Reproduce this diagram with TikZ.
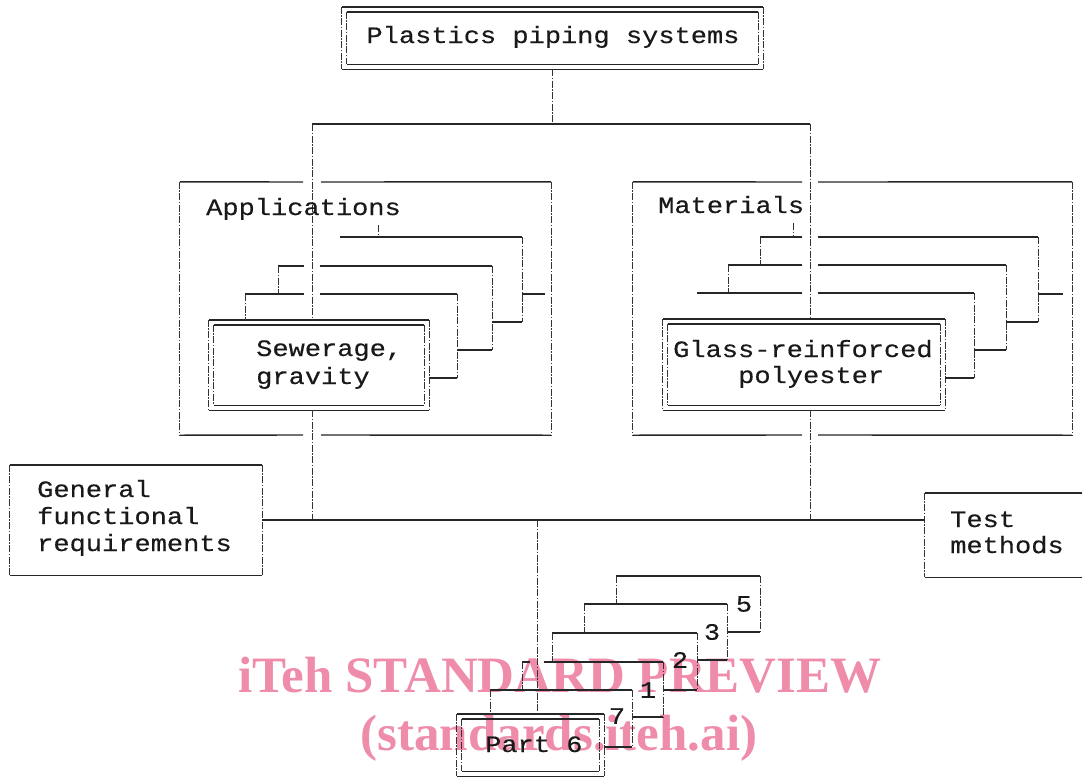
\documentclass[tikz,border=0pt]{standalone}
\usepackage{fontspec}
\usetikzlibrary{calc}
\newfontfamily\twfont[FakeStretch=1.15,FakeBold=0.4]{Liberation Mono}
\newfontfamily\wmfont{Liberation Serif}
\definecolor{wmpink}{RGB}{238,140,170}
\tikzset{
  hl/.style={line width=1.4pt, draw=black!85},
  vl/.style={line width=0.9pt, draw=black!80, dash pattern=on 7pt off 1.5pt on 1.5pt off 1.5pt},
  boxarea/.style={draw=none, inner sep=0pt},
  txt/.style={font={\twfont\fontsize{23.5}{27}\selectfont}, inner sep=0pt, text=black!90},
  wmark/.style={font={\wmfont\bfseries\fontsize{51}{56}\selectfont}, inner sep=0pt, text=wmpink}
}
\newcommand\hvframe[2]{%
  \draw[hl] (#1) -- (#1 -| #2) (#1 |- #2) -- (#2);
  \draw[vl] (#1) -- (#1 |- #2) (#1 -| #2) -- (#2);}
\newcommand\dblframe[1]{%
  \hvframe{#1.north west}{#1.south east}%
  \path ($(#1.north west)+(5,5)$) coordinate (#1-inw) ($(#1.south east)+(-5,-5)$) coordinate (#1-ise);
  \hvframe{#1-inw}{#1-ise}}
\begin{document}
\begin{tikzpicture}[x=1pt,y=-1pt]
\useasboundingbox (0,0) rectangle (1082,777);
% watermark (behind)
\node[wmark, anchor=base] (wm1) at (560,692) {iTeh STANDARD PREVIEW};
\node[wmark, anchor=base] (wm2) at (559,750) {(standards.iteh.ai)};

% box areas
\node[boxarea, minimum width=421pt, minimum height=62pt] (top) at (552.5,38) {};
\node[boxarea, minimum width=371pt, minimum height=253pt] (apps) at (365.5,308.5) {};
\node[boxarea, minimum width=439pt, minimum height=253pt] (mats) at (852.5,308.5) {};
\node[boxarea, minimum width=220pt, minimum height=90pt] (sew) at (319,365) {};
\node[boxarea, minimum width=282pt, minimum height=91pt] (grp) at (804,364.5) {};
\node[boxarea, minimum width=252pt, minimum height=110pt] (gen) at (136,520) {};
\node[boxarea, minimum width=175pt, minimum height=84pt] (test) at (1012.5,535) {};
\node[boxarea, minimum width=147pt, minimum height=62pt] (part) at (530.5,745) {};

% frames
\dblframe{top}
\dblframe{sew}
\dblframe{grp}
\dblframe{part}
\hvframe{gen.north west}{gen.south east}
\draw[hl] (test.north west) -- (test.north east) (test.south west) -- (test.south east);
\draw[vl] (test.north west) -- (test.south west);
\draw[hl] (apps.north west) -- (303,182) (321,182) -- (apps.north east);
\draw[hl] (apps.south west) -- (303,435) (321,435) -- (apps.south east);
\draw[vl] (apps.north west) -- (apps.south west) (apps.north east) -- (apps.south east);
\draw[hl] (mats.north west) -- (802,182) (818,182) -- (mats.north east);
\draw[hl] (mats.south west) -- (802,435) (818,435) -- (mats.south east);
\draw[vl] (mats.north west) -- (mats.south west) (mats.north east) -- (mats.south east);

% connectors
\coordinate (busL) at (312,124);
\coordinate (busR) at (810,124);
\coordinate (lowL) at (312,520);
\coordinate (lowR) at (810,520);
\coordinate (lowM) at (537,520);
\draw[vl] (top.south) -- (top.south |- busL);
\draw[hl] (busL) -- (busR);
\draw[vl] (busL) -- (busL |- sew.north);
\draw[vl] (sew.south -| busL) -- (lowL);
\draw[vl] (busR) -- (busR |- grp.north);
\draw[vl] (grp.south -| busR) -- (lowR);
\draw[hl] (gen.east) -- (gen.east -| test.west);
\draw[vl] (lowM) -- (lowM |- part.north);

% applications stack
\draw[hl] (340,237) -- (522,237);
\draw[vl] (378,225) -- (378,237);
\draw[vl] (522,237) -- (522,322);
\draw[hl] (492,322) -- (522,322);
\draw[hl] (522,294) -- (545,294);
\draw[hl] (278,266) -- (304,266) (320,266) -- (492,266);
\draw[vl] (278,266) -- (278,294);
\draw[vl] (492,266) -- (492,350);
\draw[hl] (457,350) -- (492,350);
\draw[hl] (245,294) -- (304,294) (320,294) -- (457,294);
\draw[vl] (245,294) -- (245,320);
\draw[vl] (457,294) -- (457,378);
\draw[hl] (sew.east |- 0,378) -- (457,378);

% materials stack
\draw[vl] (793,223) -- (793,237);
\draw[hl] (760,237) -- (802,237) (818,237) -- (1038,237);
\draw[vl] (760,237) -- (760,265);
\draw[hl] (728,265) -- (802,265) (818,265) -- (1006,265);
\draw[vl] (728,265) -- (728,293);
\draw[hl] (697,293) -- (802,293) (818,293) -- (974,293);
\draw[vl] (1038,237) -- (1038,322);
\draw[hl] (1006,322) -- (1038,322);
\draw[hl] (1038,294) -- (1063,294);
\draw[vl] (1006,265) -- (1006,350);
\draw[hl] (974,350) -- (1006,350);
\draw[vl] (974,293) -- (974,378);
\draw[hl] (grp.east |- 0,378) -- (974,378);

% parts stack
\draw[hl] (616,576) -- (760,576);
\draw[vl] (760,576) -- (760,632);
\draw[hl] (728,632) -- (760,632);
\draw[vl] (616,576) -- (616,604);
\draw[hl] (584,604) -- (727,604);
\draw[vl] (727,604) -- (727,660);
\draw[hl] (697,660) -- (727,660);
\draw[vl] (584,604) -- (584,633);
\draw[hl] (552,633) -- (697,633);
\draw[vl] (697,633) -- (697,690);
\draw[hl] (663,690) -- (697,690);
\draw[vl] (552,633) -- (552,662);
\draw[hl] (522,662) -- (530,662) (544,662) -- (663,662);
\draw[vl] (663,662) -- (663,717);
\draw[hl] (632,717) -- (663,717);
\draw[vl] (522,662) -- (522,690);
\draw[hl] (490,690) -- (632,690);
\draw[vl] (632,690) -- (632,747);
\draw[hl] (part.east |- 0,747) -- (632,747);
\draw[vl] (490,690) -- (490,714);

% texts
\node[txt, anchor=base] (toptxt) at (553,43) {Plastics piping systems};
\node[txt, anchor=base west] (appl) at (206,215) {Applications};
\node[txt, anchor=base west] (matl) at (658,213) {Materials};
\node[txt, anchor=base west] (sew1) at (256,356) {Sewerage,};
\node[txt, anchor=base west] (sew2) at (256,384) {gravity};
\node[txt, anchor=base west] (grp1) at (673,357) {Glass-reinforced};
\node[txt, anchor=base west] (grp2) at (738,383) {polyester};
\node[txt, anchor=base west] (gen1) at (37,497) {General};
\node[txt, anchor=base west] (gen2) at (37,524) {functional};
\node[txt, anchor=base west] (gen3) at (37,551) {requirements};
\node[txt, anchor=base west] (tst1) at (950,527) {Test};
\node[txt, anchor=base west] (tst2) at (950,553) {methods};
\node[txt, anchor=base west] (prt) at (485,752) {Part 6};
\node[txt] (n5) at (744,604) {5};
\node[txt] (n3) at (712,632) {3};
\node[txt] (n2) at (680,660) {2};
\node[txt] (n1) at (648,690) {1};
\node[txt] (n7) at (617,716) {7};
\end{tikzpicture}
\end{document}
